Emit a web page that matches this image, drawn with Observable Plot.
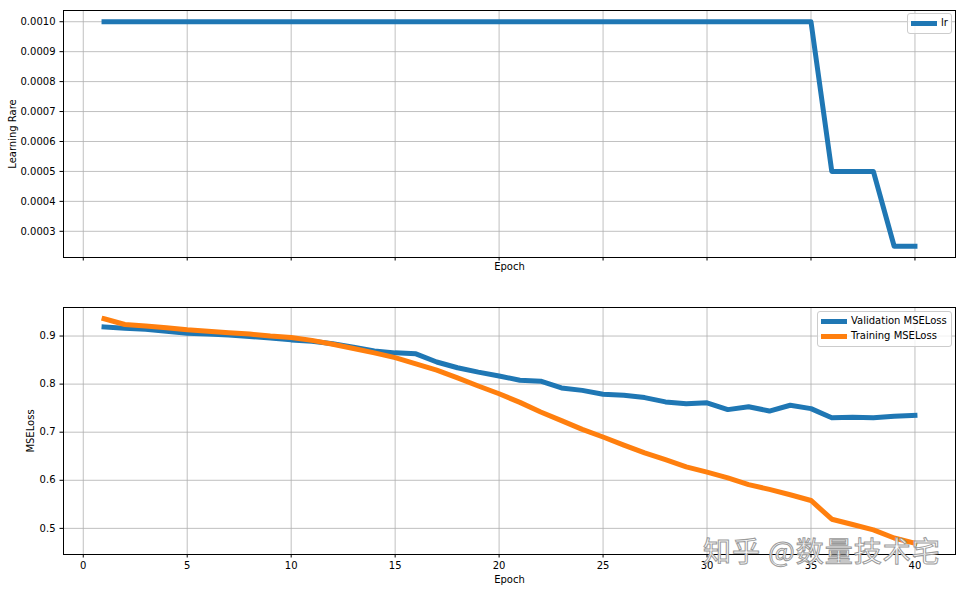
<!DOCTYPE html>
<html>
<head>
<meta charset="utf-8">
<script src="https://cdn.jsdelivr.net/npm/d3@7"></script>
<script src="https://cdn.jsdelivr.net/npm/@observablehq/plot@0.6"></script>
<style>
  html, body { margin: 0; padding: 0; background: white; }
  #wrap { position: relative; width: 966px; height: 592px; overflow: hidden; font-family: "DejaVu Sans", sans-serif; }
  #wrap svg { display: block; }
  .legend { position: absolute; border: 1px solid #cccccc; border-radius: 3px; background: rgba(255,255,255,0.8); font-size: 10px; color: #000; }
  .legend .row { position: absolute; left: 0; height: 14px; white-space: nowrap; }
  .legend .swatch { position: absolute; left: 3px; top: 5px; width: 26px; height: 5px; }
  .legend .lab { position: absolute; left: 33px; top: 0px; line-height: 14px; }
  #watermark { position: absolute; left: 703px; top: 530px; font-family: "Noto Sans CJK SC", sans-serif; font-size: 28px; color: rgba(255,255,255,0.9); -webkit-text-stroke: 1px #9a9a9a; white-space: nowrap; letter-spacing: 1px; }
</style>
</head>
<body>
<div id="wrap"></div>
<script>
// ---- data ----
const epochs = [1,2,3,4,5,6,7,8,9,10,11,12,13,14,15,16,17,18,19,20,21,22,23,24,25,26,27,28,29,30,31,32,33,34,35,36,37,38,39,40];
const learningRate = [0.001,0.001,0.001,0.001,0.001,0.001,0.001,0.001,0.001,0.001,
                      0.001,0.001,0.001,0.001,0.001,0.001,0.001,0.001,0.001,0.001,
                      0.001,0.001,0.001,0.001,0.001,0.001,0.001,0.001,0.001,0.001,
                      0.001,0.001,0.001,0.001,0.001,0.0005,0.0005,0.0005,0.00025,0.00025];
const validationLoss = [0.919,0.916,0.914,0.910,0.906,0.904,0.902,0.899,0.896,0.892,
                        0.889,0.884,0.877,0.869,0.865,0.863,0.846,0.834,0.825,0.817,
                        0.808,0.806,0.792,0.787,0.779,0.777,0.772,0.763,0.759,0.761,
                        0.747,0.753,0.744,0.756,0.749,0.730,0.731,0.730,0.733,0.735];
const trainingLoss = [0.936,0.924,0.921,0.917,0.913,0.910,0.907,0.904,0.900,0.897,
                      0.891,0.883,0.874,0.865,0.855,0.842,0.829,0.813,0.796,0.780,
                      0.762,0.742,0.724,0.706,0.690,0.673,0.657,0.643,0.628,0.617,
                      0.605,0.591,0.581,0.570,0.558,0.519,0.508,0.497,0.480,0.469];
const xTicks = [0,5,10,15,20,25,30,35,40];
const lrTicks = [0.0003,0.0004,0.0005,0.0006,0.0007,0.0008,0.0009,0.0010];
const lossTicks = [0.5,0.6,0.7,0.8,0.9];
const seriesNames = ["Validation MSELoss", "Training MSELoss"];
const colors = ["#1f77b4", "#ff7f0e"];

// ---- helpers (matplotlib-like 5% margins) ----
function padded(vals) {
  const [a, b] = d3.extent(vals);
  const m = (b - a) * 0.05;
  return [a - m, b + m];
}
const xDomain = padded(epochs);
const lrDomain = padded(learningRate);
const lossDomain = padded(validationLoss.concat(trainingLoss));

const lrData = epochs.map((e, i) => ({epoch: e, lr: learningRate[i]}));
const valData = epochs.map((e, i) => ({epoch: e, loss: validationLoss[i]}));
const trainData = epochs.map((e, i) => ({epoch: e, loss: trainingLoss[i]}));

const baseStyle = {fontFamily: "DejaVu Sans, sans-serif", fontSize: "10px", color: "#000", background: "white", overflow: "visible"};
const gridOpts = {stroke: "#b0b0b0", strokeOpacity: 1, strokeWidth: 0.8};
const lineOpts = {strokeWidth: 5, strokeLinecap: "square", strokeLinejoin: "round"};

const topPlot = Plot.plot({
  width: 966, height: 290,
  marginTop: 10, marginBottom: 33, marginLeft: 63, marginRight: 11,
  style: baseStyle,
  x: {domain: xDomain},
  y: {domain: lrDomain},
  marks: [
    Plot.gridX(xTicks, gridOpts),
    Plot.gridY(lrTicks, gridOpts),
    Plot.axisX(xTicks, {tickSize: 3.5, tickFormat: () => "", label: null}),
    Plot.axisY(lrTicks, {tickSize: 3.5, tickPadding: 4.5, tickFormat: d3.format(".4f"), label: null}),
    Plot.line(lrData, {x: "epoch", y: "lr", stroke: colors[0], ...lineOpts}),
    Plot.frame({stroke: "#000", strokeWidth: 1}),
    Plot.text(["Epoch"], {text: d => d, frameAnchor: "bottom", textAnchor: "middle", dy: 12}),
    Plot.text(["Learning Rare"], {text: d => d, frameAnchor: "left", textAnchor: "middle", dx: -51, rotate: -90})
  ]
});

const bottomPlot = Plot.plot({
  width: 966, height: 302,
  marginTop: 17, marginBottom: 38, marginLeft: 63, marginRight: 11,
  style: baseStyle,
  x: {domain: xDomain},
  y: {domain: lossDomain},
  marks: [
    Plot.gridX(xTicks, gridOpts),
    Plot.gridY(lossTicks, gridOpts),
    Plot.axisX(xTicks, {tickSize: 3.5, tickPadding: 3.5, tickFormat: d3.format("d"), label: null}),
    Plot.axisY(lossTicks, {tickSize: 3.5, tickPadding: 4.5, tickFormat: d3.format(".1f"), label: null}),
    Plot.line(valData, {x: "epoch", y: "loss", stroke: colors[0], ...lineOpts}),
    Plot.line(trainData, {x: "epoch", y: "loss", stroke: colors[1], ...lineOpts}),
    Plot.frame({stroke: "#000", strokeWidth: 1}),
    Plot.text(["Epoch"], {text: d => d, frameAnchor: "bottom", textAnchor: "middle", dy: 28}),
    Plot.text(["MSELoss"], {text: d => d, frameAnchor: "left", textAnchor: "middle", dx: -33, rotate: -90})
  ]
});

const wrap = document.getElementById("wrap");
wrap.appendChild(topPlot);
wrap.appendChild(bottomPlot);

function legend(left, top, width, items) {
  const box = document.createElement("div");
  box.className = "legend";
  box.style.left = left + "px";
  box.style.top = top + "px";
  box.style.width = width + "px";
  box.style.height = (items.length * 15 + 4) + "px";
  items.forEach((it, i) => {
    const row = document.createElement("div");
    row.className = "row";
    row.style.top = (2 + i * 15) + "px";
    const sw = document.createElement("div");
    sw.className = "swatch";
    sw.style.background = it.color;
    const lab = document.createElement("div");
    lab.className = "lab";
    lab.textContent = it.name;
    row.appendChild(sw);
    row.appendChild(lab);
    box.appendChild(row);
  });
  wrap.appendChild(box);
}
legend(907, 13, 43, [{name: "lr", color: colors[0]}]);
legend(817, 311, 133, seriesNames.map((n, i) => ({name: n, color: colors[i]})));

const wm = document.createElement("div");
wm.id = "watermark";
wm.textContent = "知乎 @数量技术宅";
wrap.appendChild(wm);
</script>
</body>
</html>
